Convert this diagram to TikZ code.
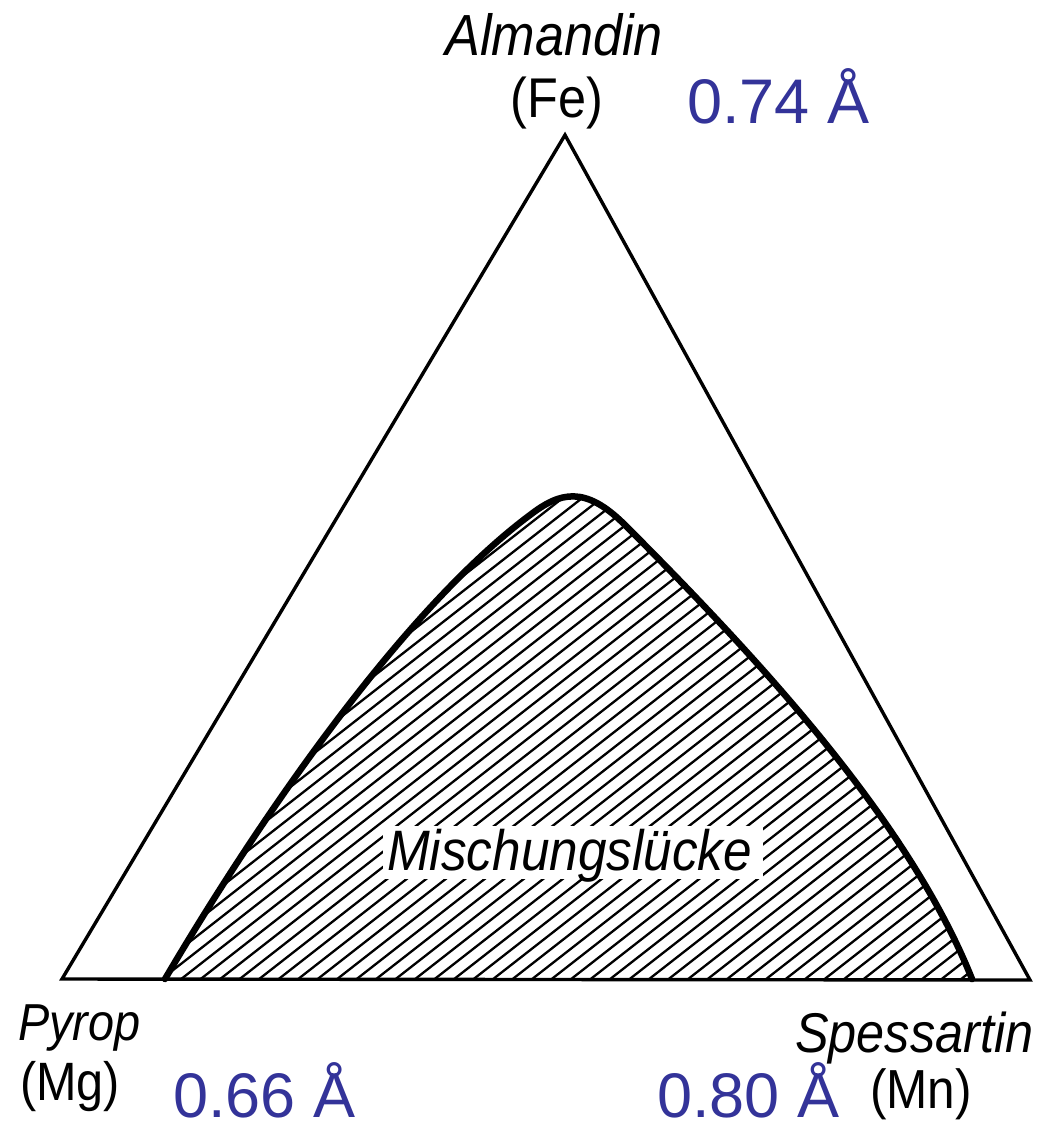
\documentclass[tikz,border=0pt]{standalone}
\usepackage{fontspec}
\setmainfont{Liberation Sans}
\newfontfamily\labfont[FakeStretch=0.9]{Liberation Sans}
\definecolor{radblue}{RGB}{51,51,153}
\begin{document}
\begin{tikzpicture}[x=1pt,y=-1pt,
  labi/.style={inner sep=0pt, anchor=base west, font=\labfont\itshape\fontsize{#1}{#1}\selectfont},
  labu/.style={inner sep=0pt, anchor=base, font=\labfont\fontsize{#1}{#1}\selectfont},
  radius/.style={inner sep=0pt, anchor=base west, text=radblue, font=\fontsize{63}{63}\selectfont},
  edge/.style={line width=3.4pt, line join=miter},
  gapline/.style={line width=6.5pt, line cap=round, line join=round},
  hatchline/.style={line width=2.3pt}]
\useasboundingbox[fill=white] (0,0) rectangle (1049,1130);

% triangle corners
\coordinate (fe) at (565,135);
\coordinate (mn) at (1030,980);
\coordinate (mg) at (62,979);
\coordinate (gapL) at (165,979);
\coordinate (gapR) at (972,979);
\coordinate (gapA) at (530,515);
\coordinate (gapB) at (625,525);

% hatched miscibility gap
\begin{scope}
  \clip (gapL) .. controls (255,826) and (400,612) .. (gapA)
        .. controls (560,492) and (585,485) .. (gapB)
        .. controls (775,675) and (912,829) .. (gapR) -- cycle;
  \foreach \i in {0,...,56} {
    \draw[hatchline] ({-80+19.5*\i},985) -- ++(700,-547);
  }
\end{scope}

% white box behind label
\fill[white] (383,826) rectangle (763,879);
\node[labi=57] (gap) at (387,870) {Mischungslücke};

% boundary of the gap
\draw[gapline] (gapL) .. controls (255,826) and (400,612) .. (gapA)
        .. controls (560,492) and (585,485) .. (gapB)
        .. controls (775,675) and (912,829) .. (gapR);

% triangle
\draw[edge] (fe) -- (mn) -- (mg) -- cycle;

% end-member labels
\node[labi=58] (alm) at (445,55) {Almandin};
\node[labu=56] (feL) at (557,117) {(Fe)};
\node[labi=52] (pyr) at (18,1040) {Pyrop};
\node[labu=54] (mgL) at (70,1100) {(Mg)};
\node[labi=56] (spe) at (795,1052) {Spessartin};
\node[labu=55] (mnL) at (921,1108) {(Mn)};

% ionic radii
\node[radius] (rfe) at (687,123) {0.74 Å};
\node[radius] (rmg) at (173,1117) {0.66 Å};
\node[radius] (rmn) at (657,1117) {0.80 Å};
\end{tikzpicture}
\end{document}
